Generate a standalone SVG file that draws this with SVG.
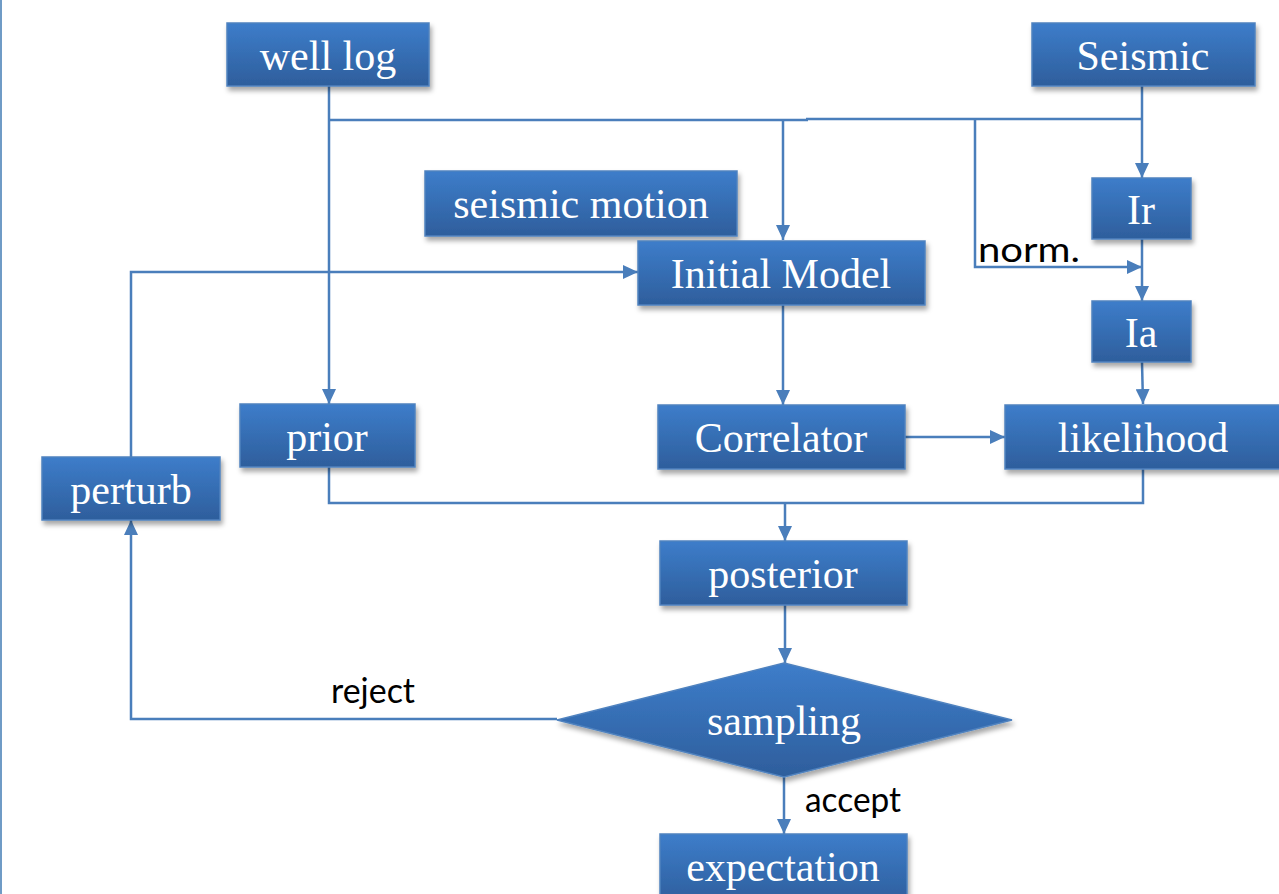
<svg xmlns="http://www.w3.org/2000/svg" width="1279" height="894" viewBox="0 0 1279 894">
  <defs>
    <linearGradient id="g" x1="0" y1="0" x2="0" y2="1">
      <stop offset="0" stop-color="#3d7dca"/>
      <stop offset="1" stop-color="#2e5e9c"/>
    </linearGradient>
    <filter id="sh" x="-10%" y="-10%" width="125%" height="135%">
      <feDropShadow dx="2" dy="4" stdDeviation="2.5" flood-color="#000" flood-opacity="0.35"/>
    </filter>
    <marker id="ar" viewBox="0 0 15 14" refX="15" refY="7" markerWidth="15" markerHeight="14" markerUnits="userSpaceOnUse" orient="auto">
      <path d="M0,0 L15,7 L0,14 z" fill="#4a7ebb"/>
    </marker>
    <style>
      .box { fill: url(#g); stroke: #4f82bf; stroke-width: 1.5; filter: url(#sh); }
      .t { font-family: "Liberation Serif", "Times New Roman", serif; font-size: 42px; fill: #ffffff; text-anchor: middle; }
      .c { fill: none; stroke: #4a7ebb; stroke-width: 2.5; }
      .lbl { font-family: Lato, "Open Sans", sans-serif; font-size: 34px; fill: #000000; }
    </style>
  </defs>
  <rect x="0" y="0" width="1279" height="894" fill="#ffffff"/>
  <rect x="0" y="0" width="2" height="894" fill="#6f9bc6"/>

  <g id="connectors">
    <path class="c" d="M329,86 V404" marker-end="url(#ar)"/>
    <path class="c" d="M329,120 H808"/>
    <path class="c" d="M806,119 H1142"/>
    <path class="c" d="M783,120 V240" marker-end="url(#ar)"/>
    <path class="c" d="M1142,86 V178" marker-end="url(#ar)"/>
    <path class="c" d="M975,119 V267 H1142" marker-end="url(#ar)"/>
    <path class="c" d="M1142,239 V301" marker-end="url(#ar)"/>
    <path class="c" d="M1142,362 L1143,404" marker-end="url(#ar)"/>
    <path class="c" d="M783,305 V405" marker-end="url(#ar)"/>
    <path class="c" d="M905,437 H1005" marker-end="url(#ar)"/>
    <path class="c" d="M329,467 V503 H1143 V469"/>
    <path class="c" d="M785,503 V541" marker-end="url(#ar)"/>
    <path class="c" d="M785,605 V663" marker-end="url(#ar)"/>
    <path class="c" d="M557,719 H131 V520" marker-end="url(#ar)"/>
    <path class="c" d="M131,457 V272 H638" marker-end="url(#ar)"/>
    <path class="c" d="M784,777 V834" marker-end="url(#ar)"/>
    <text class="lbl" x="978" y="262" textLength="102" lengthAdjust="spacingAndGlyphs">norm.</text>
    <text class="lbl" x="331" y="703" textLength="84" lengthAdjust="spacingAndGlyphs">reject</text>
    <text class="lbl" x="805" y="812" textLength="96" lengthAdjust="spacingAndGlyphs">accept</text>
  </g>

  <g id="well-log"><rect class="box" x="227" y="23" width="202" height="63"/><text class="t" x="328" y="70">well log</text></g>
  <g id="seismic"><rect class="box" x="1032" y="23" width="223" height="63"/><text class="t" x="1143" y="70">Seismic</text></g>
  <g id="seismic-motion"><rect class="box" x="425" y="171" width="312" height="65"/><text class="t" x="581" y="218">seismic motion</text></g>
  <g id="initial-model"><rect class="box" x="638" y="241" width="287" height="64"/><text class="t" x="781" y="288">Initial Model</text></g>
  <g id="ir"><rect class="box" x="1092" y="178" width="99" height="61"/><text class="t" x="1141" y="224">Ir</text></g>
  <g id="ia"><rect class="box" x="1092" y="301" width="99" height="61"/><text class="t" x="1141" y="347">Ia</text></g>
  <g id="prior"><rect class="box" x="240" y="404" width="175" height="63"/><text class="t" x="327" y="451">prior</text></g>
  <g id="correlator"><rect class="box" x="658" y="405" width="247" height="64"/><text class="t" x="781" y="452">Correlator</text></g>
  <g id="likelihood"><rect class="box" x="1005" y="405" width="276" height="64"/><text class="t" x="1143" y="452">likelihood</text></g>
  <g id="perturb"><rect class="box" x="42" y="457" width="178" height="63"/><text class="t" x="131" y="504">perturb</text></g>
  <g id="posterior"><rect class="box" x="660" y="541" width="247" height="64"/><text class="t" x="783" y="588">posterior</text></g>
  <g id="sampling"><path class="box" d="M784,663 L1012,720 L784,777 L557,720 z"/><text class="t" x="784" y="735">sampling</text></g>
  <g id="expectation"><rect class="box" x="660" y="834" width="247" height="70"/><text class="t" x="783" y="881">expectation</text></g>
</svg>
